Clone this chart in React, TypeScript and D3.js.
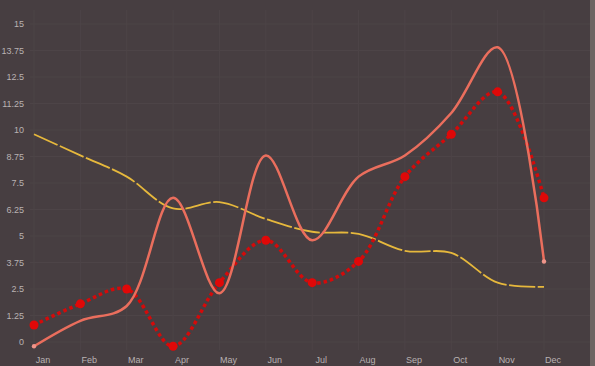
import React from "react";
import * as d3 from "d3";

const months = ["Jan", "Feb", "Mar", "Apr", "May", "Jun", "Jul", "Aug", "Sep", "Oct", "Nov", "Dec"];
const yTicks = [0, 1.25, 2.5, 3.75, 5, 6.25, 7.5, 8.75, 10, 11.25, 12.5, 13.75, 15];
const salmonSeries = [-0.2, 1.0, 1.7, 6.8, 2.3, 8.8, 4.8, 7.8, 8.8, 10.8, 13.9, 3.8];
const redSeries = [0.8, 1.8, 2.5, -0.2, 2.8, 4.8, 2.8, 3.8, 7.8, 9.8, 11.8, 6.8];
const yellowSeries = [9.8, 8.8, 7.8, 6.3, 6.6, 5.8, 5.2, 5.1, 4.3, 4.2, 2.8, 2.6];

const W = 595;
const H = 366;

export default function App() {
  const x = d3.scalePoint<string>().domain(months).range([34, 544]);
  const y = d3.scaleLinear().domain([0, 15]).range([342, 24]);
  const line = d3
    .line<number>()
    .x((_, i) => x(months[i]) as number)
    .y(d => y(d))
    .curve(d3.curveCatmullRom.alpha(0.5));

  return (
    <svg
      width={W}
      height={H}
      style={{ position: "fixed", left: 0, top: 0, background: "#473e41" }}
      fontFamily="Helvetica, Arial, 'Liberation Sans', sans-serif"
    >
      <rect x={590} y={0} width={5} height={H} fill="#6e6462" />
      {/* grid */}
      <g stroke="#4d4447" strokeWidth={1}>
        {yTicks.map(t => (
          <line key={t} x1={30} x2={590} y1={y(t)} y2={y(t)} />
        ))}
        {months.map(m => (
          <line key={m} x1={x(m)} x2={x(m)} y1={10} y2={350} />
        ))}
      </g>
      {/* y labels */}
      <g fill="#b9b2b2" fontSize={9} textAnchor="end">
        {yTicks.map(t => (
          <text key={t} x={24} y={y(t) + 3}>
            {d3.format("~g")(t)}
          </text>
        ))}
      </g>
      {/* x labels */}
      <g fill="#b9b2b2" fontSize={9} textAnchor="middle">
        {months.map(m => (
          <text key={m} x={(x(m) as number) + 9} y={363}>
            {m}
          </text>
        ))}
      </g>
      {/* yellow dashed */}
      <path d={line(yellowSeries) || ""} fill="none" stroke="#e6b83c" strokeWidth={1.8} strokeDasharray="26,2.5" />
      {/* red dotted */}
      <path d={line(redSeries) || ""} fill="none" stroke="#d40a0a" strokeWidth={3.5} strokeDasharray="3.5,3" />
      {redSeries.map((v, i) => (
        <circle key={i} cx={x(months[i])} cy={y(v)} r={4.5} fill="#e00808" />
      ))}
      {/* salmon solid */}
      <path d={line(salmonSeries) || ""} fill="none" stroke="#ea6e5d" strokeWidth={2.5} />
      {[0, salmonSeries.length - 1].map(i => (
        <circle key={i} cx={x(months[i])} cy={y(salmonSeries[i])} r={2.2} fill="#f0958a" />
      ))}
    </svg>
  );
}
